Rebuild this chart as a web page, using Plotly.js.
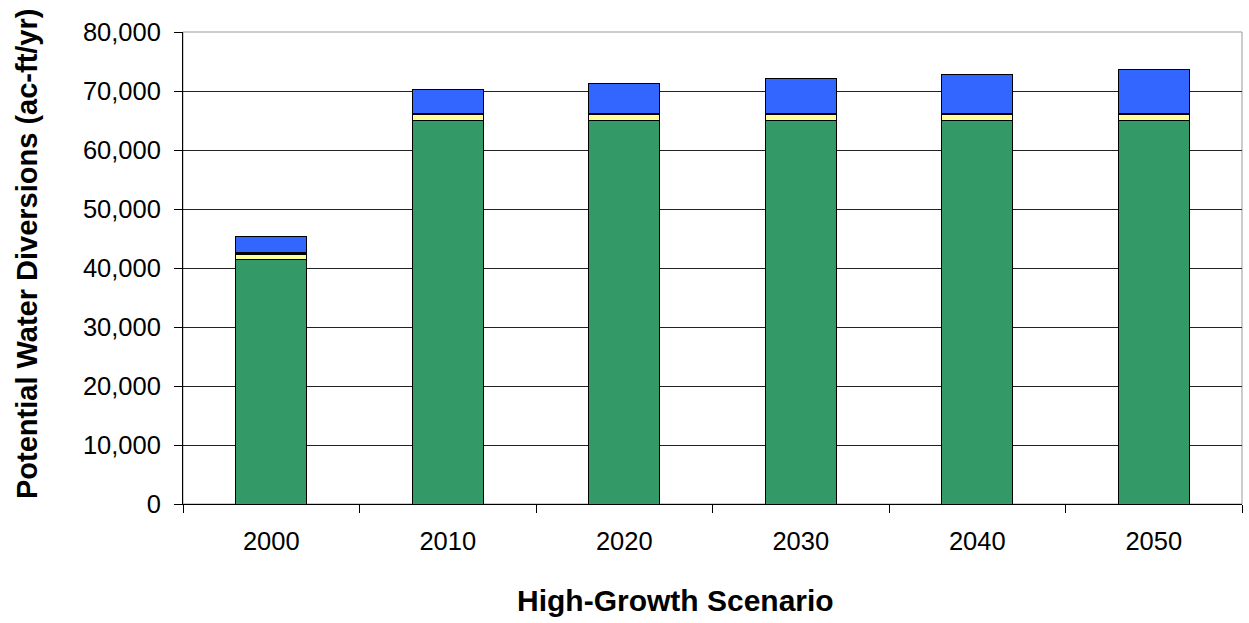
<!DOCTYPE html>
<html>
<head>
<meta charset="utf-8">
<script src="https://cdn.plot.ly/plotly-3.0.1.min.js"></script>
<style>html,body{margin:0;padding:0;background:#fff;}#chart{width:1249px;height:623px;}</style>
</head>
<body>
<div id="chart"></div>
<script>
const years = ["2000", "2010", "2020", "2030", "2040", "2050"];
const greenValues = [41500, 65000, 65000, 65000, 65000, 65000];
const yellowValues = [800, 1000, 1000, 1000, 1000, 1000];
const thinValues = [250, 250, 250, 250, 250, 250];
const blueValues = [2850, 4050, 5050, 5850, 6550, 7350];
const yTickVals = [0, 10000, 20000, 30000, 40000, 50000, 60000, 70000, 80000];
const xTitle = "High-Growth Scenario";
const yTitle = "Potential Water Diversions (ac-ft/yr)";

const lineStyle = {color: "#000", width: 1};
const traces = [
  {type: "bar", name: "Series 1", x: years, y: greenValues, marker: {color: "#339966", line: lineStyle}},
  {type: "bar", name: "Series 2", x: years, y: yellowValues, marker: {color: "#FFFF99", line: lineStyle}},
  {type: "bar", name: "Series 3", x: years, y: thinValues, marker: {color: "#000000", line: lineStyle}},
  {type: "bar", name: "Series 4", x: years, y: blueValues, marker: {color: "#3366FF", line: lineStyle}}
];

const fam = "Liberation Sans, Arial, sans-serif";
const tickFont = {family: fam, size: 25.5, color: "#000"};
const layout = {
  width: 1249, height: 623,
  margin: {l: 183, r: 7, t: 32, b: 119},
  barmode: "stack",
  bargap: 0.6,
  showlegend: false,
  paper_bgcolor: "#fff", plot_bgcolor: "#fff",
  font: tickFont,
  xaxis: {
    type: "category",
    tickson: "boundaries",
    ticks: "outside", ticklen: 8, tickcolor: "#000", tickwidth: 1,
    showline: true, linecolor: "#000", linewidth: 1,
    showgrid: false,
    tickfont: tickFont,
    ticklabelstandoff: 14
  },
  yaxis: {
    range: [0, 80000],
    tickvals: yTickVals,
    tickformat: ",d",
    ticks: "outside", ticklen: 8, tickcolor: "#000", tickwidth: 1,
    showline: true, linecolor: "#000", linewidth: 1,
    showgrid: true, gridcolor: "#222", gridwidth: 1,
    zeroline: false,
    tickfont: tickFont,
    ticklabelstandoff: 8
  },
  annotations: [
    {text: "<b>" + xTitle + "</b>", xref: "paper", yref: "paper", x: 0.4646, y: -0.2034,
     xanchor: "center", yanchor: "middle", showarrow: false, font: {family: fam, size: 30, color: "#000"}},
    {text: "<b>" + yTitle + "</b>", xref: "paper", yref: "paper", x: -0.1473, y: 0.5297,
     xanchor: "center", yanchor: "middle", textangle: -90, showarrow: false, font: {family: fam, size: 29, color: "#000"}}
  ],
  shapes: [
    {type: "rect", xref: "paper", yref: "paper", x0: 0, x1: 1, y0: 0, y1: 1, line: {color: "#999", width: 1}, layer: "below"}
  ]
};

Plotly.newPlot("chart", traces, layout, {displayModeBar: false, staticPlot: true});
</script>
</body>
</html>
